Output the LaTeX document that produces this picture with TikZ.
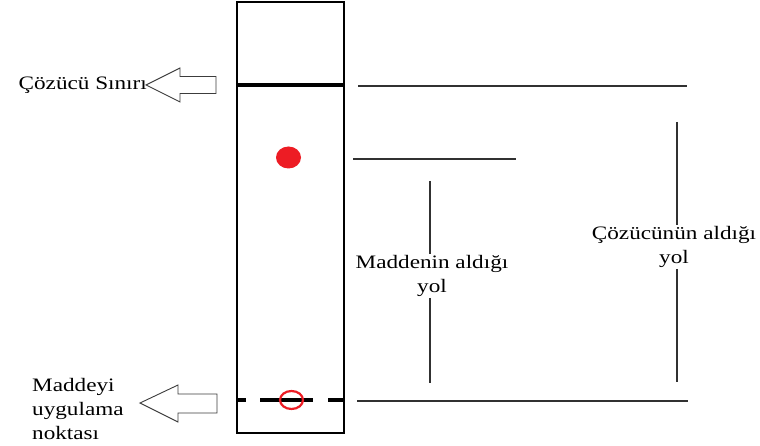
\documentclass[tikz,border=0pt]{standalone}
\usepackage{fontspec}
\setmainfont{Liberation Serif}[FakeStretch=1.22]
\usepackage{xcolor}
\usetikzlibrary{positioning}
\definecolor{spotred}{HTML}{ED1C24}
\definecolor{ink}{HTML}{1A1A1A}
\tikzset{
  tube/.style={draw=black,line width=1.4pt},
  frontline/.style={draw=black,line width=3.2pt},
  startline/.style={draw=black,line width=3.2pt,
    dash pattern=on 9pt off 14pt on 53pt off 15pt on 16pt off 20pt},
  guide/.style={draw=ink!90,line width=1.2pt},
  hollow/.style={draw=ink!85,line width=0.9pt,fill=white},
  tag/.style={font=\fontsize{19}{24}\selectfont,text=black,align=center,inner sep=1pt}
}

\begin{document}
\begin{tikzpicture}[x=1pt,y=-1pt]
  \useasboundingbox (0,0) rectangle (760,446);
  % plate
  \draw[tube] (237,2) rectangle (344,433);
  \draw[frontline] (237,85) -- (344,85);
  \draw[startline] (237,400) -- (344,400);
  \fill[spotred] (288.5,157.5) ellipse [x radius=12.5,y radius=11];
  \draw[spotred,line width=2.2pt] (291.5,400) ellipse [x radius=11.5,y radius=9];
  % hollow arrows
  \coordinate (fronttip) at (146,85);
  \coordinate (starttip) at (140,403);
  \draw[hollow] (fronttip) -- ++(34,-17) -- ++(0,8.5) -- ++(36,0) -- ++(0,17)
    -- ++(-36,0) -- ++(0,8.5) -- cycle;
  \draw[hollow] (starttip) -- ++(38,-18) -- ++(0,9) -- ++(39,0) -- ++(0,19)
    -- ++(-39,0) -- ++(0,9) -- cycle;
  \node[tag,left=-2pt of fronttip] (frontlabel) {Çözücü Sınırı};
  \node[tag,align=left,anchor=west] (startlabel) at (31,409) {Maddeyi\\uygulama\\noktası};
  % distances
  \coordinate (fronta) at (358,86);
  \coordinate (frontb) at (687,86);
  \coordinate (spota) at (353,159);
  \coordinate (spotb) at (516,159);
  \coordinate (basea) at (357,401);
  \coordinate (baseb) at (688,401);
  \draw[guide] (fronta) -- (frontb);
  \draw[guide] (spota) -- (spotb);
  \draw[guide] (basea) -- (baseb);
  \node[tag] (spotpath) at (432,276) {Maddenin aldığı\\yol};
  \node[tag] (frontpath) at (674,247) {Çözücünün aldığı\\yol};
  \coordinate (spottop) at (430,181);
  \coordinate (spotbot) at (430,383);
  \coordinate (fronttop) at (677,122);
  \coordinate (frontbot) at (677,382);
  \draw[guide] (spottop) -- (spottop |- spotpath.north);
  \draw[guide] (spotbot |- spotpath.south) -- (spotbot);
  \draw[guide] (fronttop) -- (fronttop |- frontpath.north);
  \draw[guide] (frontbot |- frontpath.south) -- (frontbot);
\end{tikzpicture}
\end{document}
